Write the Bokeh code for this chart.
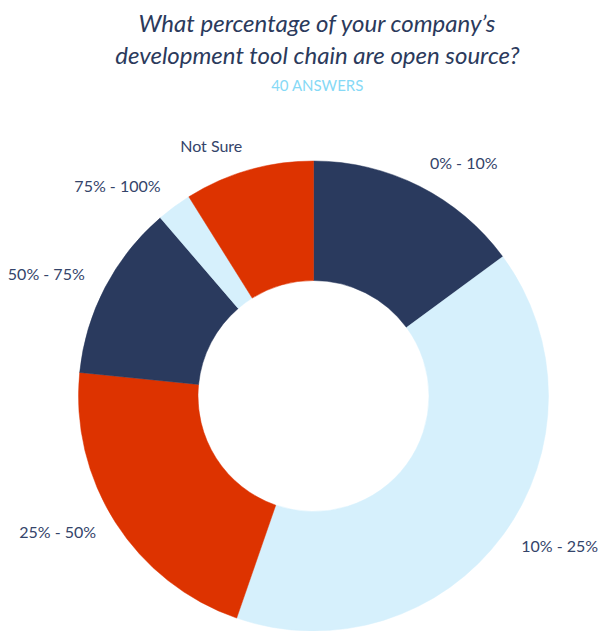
import math
from bokeh.plotting import figure
from bokeh.models import Range1d, ColumnDataSource
from bokeh.core.properties import value
from bokeh.embed import file_html
from bokeh.resources import INLINE

# ---- data ----
title_lines = ["What percentage of your company\u2019s", "development tool chain are open source?"]
subtitle = "40 ANSWERS"
categories = ["0% - 10%", "10% - 25%", "25% - 50%", "50% - 75%", "75% - 100%", "Not Sure"]
shares = [14.9, 40.4, 21.3, 12.1, 2.4, 8.9]
colors = ["#2A3A5E", "#D6F0FC", "#DD3300", "#2A3A5E", "#D6F0FC", "#DD3300"]

# ---- layout (pixel-like data units) ----
W, H = 603, 631
cx, cy = 313, H - 395.5
R_out, R_in = 235, 115.5
R_lab = 258
title_x = 317

p = figure(width=W, height=H, output_backend="svg", toolbar_location=None,
           x_range=Range1d(0, W), y_range=Range1d(0, H),
           x_axis_location=None, y_axis_location=None, min_border=0)
p.title = None
p.grid.visible = False
p.outline_line_color = None
p.background_fill_color = "white"
p.border_fill_color = "white"

total = sum(shares)
starts, ends, mids = [], [], []
acc = 0.0
for s in shares:
    a0 = acc / total * 2 * math.pi
    acc += s
    a1 = acc / total * 2 * math.pi
    starts.append(math.pi / 2 - a0)
    ends.append(math.pi / 2 - a1)
    mids.append((a0 + a1) / 2)

src = ColumnDataSource(dict(start=starts, end=ends, color=colors, cat=categories))
p.annular_wedge(x=cx, y=cy, inner_radius=R_in, outer_radius=R_out,
                start_angle="start", end_angle="end", direction="clock",
                fill_color="color", line_color="color", line_width=0.5, source=src)

lx = [cx + R_lab * math.sin(m) for m in mids]
ly = [cy + R_lab * math.cos(m) + 3 for m in mids]
align = ["left" if math.sin(m) > 0 else "right" for m in mids]
lsrc = ColumnDataSource(dict(x=lx, y=ly, t=categories, a=align))
p.text(x="x", y="y", text="t", text_align="a", text_baseline="middle",
       text_font=value("Lato"), text_font_size="16px", text_color="#34446A", source=lsrc)

# titles
p.text(x=[title_x, title_x], y=[H - 22, H - 54], text=title_lines,
       text_align="center", text_baseline="middle", text_font=value("Lato"),
       text_font_style="italic", text_font_size="24px", text_color="#2B3A5C")
p.text(x=[title_x], y=[H - 84], text=[subtitle], text_align="center",
       text_baseline="middle", text_font=value("Lato"), text_font_size="15px",
       text_color="#86D9F6")

open("out.html", "w").write(file_html(p, INLINE))
